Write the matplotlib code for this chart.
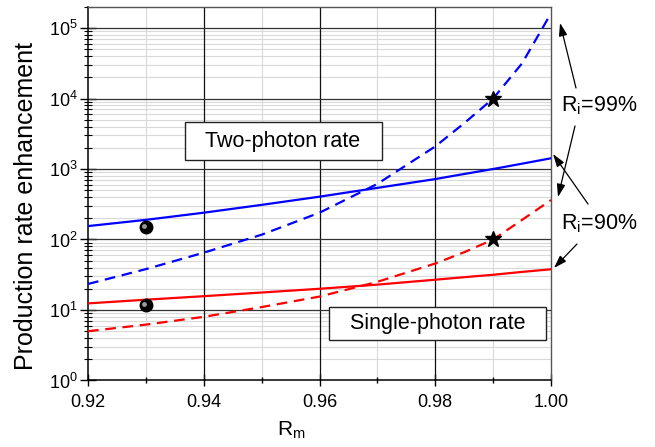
import numpy as np
import matplotlib
matplotlib.use('Agg')
import matplotlib.pyplot as plt
from matplotlib.patches import Rectangle
from matplotlib.ticker import LogLocator, MultipleLocator, FormatStrFormatter, NullFormatter
import matplotlib.transforms as mtransforms

plt.rcParams['font.family'] = ['Liberation Sans', 'DejaVu Sans']
plt.rcParams['mathtext.fontset'] = 'custom'
plt.rcParams['mathtext.rm'] = 'Liberation Sans'
plt.rcParams['mathtext.it'] = 'Liberation Sans:italic'
plt.rcParams['mathtext.default'] = 'regular'

# values
rm = [0.92, 0.93, 0.94, 0.95, 0.96, 0.97, 0.98, 0.985, 0.99, 0.995, 1.00]
two_ri99 = [23.4, 38, 65, 117, 240, 615, 2090, 4470, 10000, 31600, 162000]
two_ri90 = [155, 190, 240, 310, 405, 540, 720, 850, 1000, 1190, 1420]
one_ri99 = [5.0, 6.2, 8.0, 11.0, 15.5, 25.1, 45.7, 66, 100, 190, 363]
one_ri90 = [12.4, 14.0, 15.7, 17.7, 20.0, 22.9, 26.9, 29.2, 31.6, 34.7, 37.8]

star_x = [0.99, 0.99]
star_y = [10000, 100]
ball_x = [0.93, 0.93]
ball_y = [150, 11.6]

fig = plt.figure(figsize=(6.55, 4.47), dpi=100)
ax = fig.add_axes([0.1344, 0.1488, 0.7069, 0.836])

ax.set_yscale('log')
ax.set_xlim(0.92, 1.00)
ax.set_ylim(1, 2e5)

ax.xaxis.set_major_locator(MultipleLocator(0.02))
ax.xaxis.set_minor_locator(MultipleLocator(0.01))
ax.xaxis.set_major_formatter(FormatStrFormatter('%.2f'))
ax.yaxis.set_major_locator(LogLocator(base=10, numticks=10))
ax.yaxis.set_minor_locator(LogLocator(base=10, subs=np.arange(2, 10), numticks=20))
ax.yaxis.set_minor_formatter(NullFormatter())

# light minor grid from the axes, dark major grid drawn on top of it
ax.grid(which='minor', color='#d9d9d9', lw=0.8)
ax.set_axisbelow(True)
for v in ax.get_xticks():
    if 0.92 < v < 1.0:
        ax.axvline(v, color='#111111', lw=0.9, zorder=1)
for v in ax.get_yticks():
    if 1 < v < 2e5:
        ax.axhline(v, color='#333333', lw=0.9, zorder=1)

ax.tick_params(axis='x', which='major', direction='inout', length=8, width=1,
               labelsize=13, pad=6, top=False)
ax.tick_params(axis='x', which='minor', direction='inout', length=4.5, width=1, top=False)
ax.tick_params(axis='y', which='major', direction='inout', length=11, width=1,
               labelsize=13, pad=2, right=False)
ax.tick_params(axis='y', which='minor', direction='inout', length=6, width=0.8, right=False)

for s in ['top', 'right']:
    ax.spines[s].set_color('#555555')
    ax.spines[s].set_linewidth(1)
for s in ['left', 'bottom']:
    ax.spines[s].set_linewidth(1.1)

ax.plot(rm, two_ri90, color='#0000ff', lw=1.6, zorder=3)
ax.plot(rm, two_ri99, color='#0000ff', lw=1.6, dashes=(4.8, 3.0), zorder=3)
ax.plot(rm, one_ri90, color='#ff0000', lw=1.6, zorder=3)
ax.plot(rm, one_ri99, color='#ff0000', lw=1.6, dashes=(4.8, 3.0), zorder=3)

ax.plot(star_x, star_y, ls='none', marker='*', ms=12, color='black', zorder=5)
ax.plot(ball_x, ball_y, ls='none', marker='o', ms=9, color='black', zorder=5)
hl = mtransforms.offset_copy(ax.transData, fig=fig, x=-1.5, y=1.5, units='dots')
ax.plot(ball_x, ball_y, ls='none', marker='o', ms=3.5, color='#9a9a9a',
        mec='none', transform=hl, zorder=6)

ax.set_xlabel('R$_m$', fontsize=15)
ax.xaxis.set_label_coords(0.438, -0.105)
ax.set_ylabel('Production rate enhancement', fontsize=18)
ax.yaxis.set_label_coords(-0.107, 0.468)

# text boxes
ax.add_patch(Rectangle((0.2095, 0.5889), 0.4255, 0.1017, transform=ax.transAxes,
                       fc='white', ec='#222222', lw=1, zorder=7))
ax.text(0.4201, 0.640, 'Two-photon rate', transform=ax.transAxes, fontsize=15.5,
        ha='center', va='center', zorder=8)
ax.add_patch(Rectangle((0.5212, 0.1071), 0.4674, 0.0894, transform=ax.transAxes,
                       fc='white', ec='#222222', lw=1, zorder=7))
ax.text(0.7548, 0.153, 'Single-photon rate', transform=ax.transAxes, fontsize=15.5,
        ha='center', va='center', zorder=8)

# R_i labels and arrows (positions in image pixels, y from top)
H = 447
fig.text(561 / 655, (H - 111.5) / H, 'R$_\\mathrm{i}$=99%', fontsize=15.5,
         ha='left', va='baseline')
fig.text(561 / 655, (H - 229) / H, 'R$_\\mathrm{i}$=90%', fontsize=15.5,
         ha='left', va='baseline')
arrows = [((576, 88), (560, 23)), ((575, 126), (558, 197)),
          ((588, 204), (553, 154)), ((577, 244), (554, 268))]
for (tx, ty), (hx, hy) in arrows:
    ax.annotate('', xy=(hx, H - hy), xycoords='figure pixels',
                xytext=(tx, H - ty), textcoords='figure pixels',
                arrowprops=dict(arrowstyle='-|>,head_length=0.55,head_width=0.18',
                                color='black', lw=0.9, mutation_scale=14,
                                shrinkA=0, shrinkB=0),
                annotation_clip=False)

fig.savefig('out.png', dpi=100)
